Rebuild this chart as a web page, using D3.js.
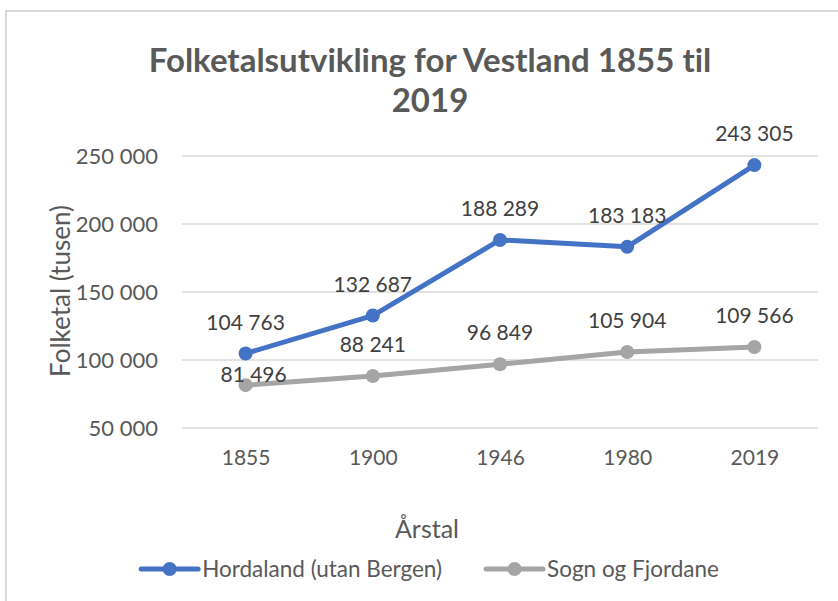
<!DOCTYPE html>
<html>
<head>
<meta charset="utf-8">
<script src="https://cdn.jsdelivr.net/npm/d3@7"></script>
<style>
  body { margin: 0; background: #fff; }
  svg { display: block; font-family: Lato, "Liberation Sans", sans-serif; font-variant-ligatures: none; }
</style>
</head>
<body>
<svg id="chart" width="838" height="601"></svg>
<script>
// data
let years = ["1855", "1900", "1946", "1980", "2019"];
let hordaland = [104763, 132687, 188289, 183183, 243305];
let sogn = [81496, 88241, 96849, 105904, 109566];
let seriesNames = ["Hordaland (utan Bergen)", "Sogn og Fjordane"];
let yTicks = [50000, 100000, 150000, 200000, 250000];

let colors = ["#4472C4", "#A5A5A5"];
let textCol = "#595959";

let svg = d3.select("#chart");

// chart area border (cut off on right and bottom)
svg.append("rect")
  .attr("x", 6).attr("y", 11)
  .attr("width", 900).attr("height", 700)
  .attr("fill", "#fff")
  .attr("stroke", "#d9d9d9")
  .attr("stroke-width", 2);

// scales
let x = d3.scalePoint().domain(years).range([182, 818]).padding(0.5);
let y = d3.scaleLinear().domain([50000, 250000]).range([428, 156]);

let nf = d3.formatLocale({decimal: ",", thousands: " ", grouping: [3], currency: ["", ""]}).format(",d");

// title
let title = svg.append("text")
  .attr("text-anchor", "middle")
  .attr("fill", textCol)
  .attr("font-weight", "bold")
  .attr("font-size", 33);
title.append("tspan").attr("x", 430).attr("y", 72).text("Folketalsutvikling for Vestland 1855 til");
title.append("tspan").attr("x", 430).attr("y", 112).text("2019");

// gridlines
svg.append("g")
  .selectAll("line")
  .data(yTicks)
  .join("line")
    .attr("x1", 182).attr("x2", 818)
    .attr("y1", d => y(d)).attr("y2", d => y(d))
    .attr("stroke", "#d9d9d9")
    .attr("stroke-width", 1.3);

// y axis labels
svg.append("g")
  .attr("transform", "translate(158,0)")
  .call(d3.axisLeft(y).tickValues(yTicks).tickFormat(nf).tickSize(0).tickPadding(0))
  .call(g => g.select(".domain").remove())
  .call(g => g.selectAll("text")
    .attr("fill", textCol)
    .attr("font-size", 22)
    .attr("font-family", "Lato, sans-serif"));

// x axis labels
svg.append("g")
  .attr("transform", "translate(0,450)")
  .call(d3.axisBottom(x).tickSize(0).tickPadding(0))
  .call(g => g.select(".domain").remove())
  .call(g => g.selectAll("text")
    .attr("fill", textCol)
    .attr("font-size", 21)
    .attr("font-family", "Lato, sans-serif"));

// axis titles
svg.append("text")
  .attr("transform", "translate(70,291) rotate(-90)")
  .attr("text-anchor", "middle")
  .attr("fill", textCol)
  .attr("font-size", 26)
  .text("Folketal (tusen)");

svg.append("text")
  .attr("x", 427).attr("y", 538)
  .attr("text-anchor", "middle")
  .attr("fill", textCol)
  .attr("font-size", 25)
  .text("Årstal");

// lines + markers
let line = d3.line().x((d, i) => x(years[i])).y(d => y(d));
let allSeries = [hordaland, sogn];

allSeries.forEach(function(vals, s) {
  svg.append("path")
    .datum(vals)
    .attr("d", line)
    .attr("fill", "none")
    .attr("stroke", colors[s])
    .attr("stroke-width", 5)
    .attr("stroke-linejoin", "round")
    .attr("stroke-linecap", "round");

  svg.append("g")
    .selectAll("circle")
    .data(vals)
    .join("circle")
      .attr("cx", (d, i) => x(years[i]))
      .attr("cy", d => y(d))
      .attr("r", 7)
      .attr("fill", colors[s]);
});

// data labels (drawn last so they sit over the lines)
allSeries.forEach(function(vals, s) {
  svg.append("g")
    .selectAll("text")
    .data(vals)
    .join("text")
      .attr("x", (d, i) => x(years[i]) + ((s == 1 && i == 0) ? 8 : 0))
      // first Sogn label was dragged down in the original so it doesn't hit the blue point
      .attr("y", (d, i) => y(d) - ((s == 1 && i == 0) ? 3 : 24))
      .attr("text-anchor", "middle")
      .attr("fill", "#404040")
      .attr("font-size", 21)
      .text(d => nf(d));
});

// legend
let legend = svg.append("g").attr("transform", "translate(0,569)");
let lx = 0;
seriesNames.forEach(function(name, s) {
  let item = legend.append("g").attr("transform", `translate(${lx},0)`);
  item.append("line")
    .attr("x1", 0).attr("x2", 57)
    .attr("stroke", colors[s]).attr("stroke-width", 5)
    .attr("stroke-linecap", "round");
  item.append("circle").attr("cx", 28.5).attr("r", 7).attr("fill", colors[s]);
  let t = item.append("text")
    .attr("x", 61).attr("y", 8)
    .attr("fill", textCol)
    .attr("font-size", 22.5)
    .text(name);
  lx += 61 + t.node().getComputedTextLength() + 44;
});
let legW = lx - 44;
legend.attr("transform", `translate(${430 - legW / 2},569)`);
</script>
</body>
</html>
